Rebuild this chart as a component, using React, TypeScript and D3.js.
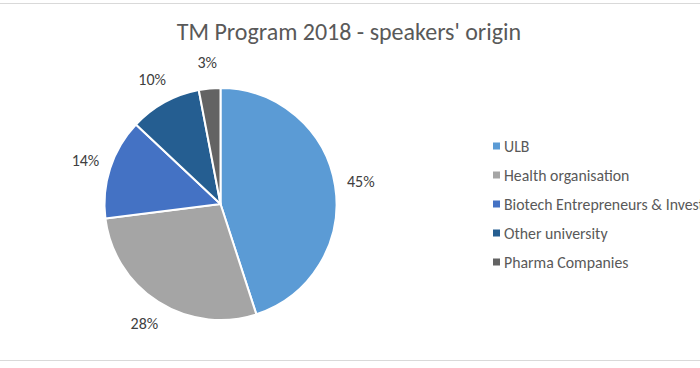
import React from "react";
import * as d3 from "d3";

const categories = ["ULB", "Health organisation", "Biotech Entrepreneurs & Investors", "Other university", "Pharma Companies"];
const values = [45, 28, 14, 10, 3];
const colors = ["#5B9BD5", "#A5A5A5", "#4472C4", "#255E91", "#636363"];
const title = "TM Program 2018 - speakers' origin";

const W = 700;
const H = 368;
const FONT = "Calibri, Carlito, Lato, 'Open Sans', sans-serif";

export default function App() {
  const cx = 220.5;
  const cy = 204;
  const r = 116;
  const total = d3.sum(values);
  const pie = d3.pie<number>().sort(null).value((d) => d)(values);
  const arc = d3.arc<d3.PieArcDatum<number>>().innerRadius(0).outerRadius(r);
  const labelR = 142;
  const legendY = d3.scalePoint<string>().domain(categories).range([146, 262]);

  return (
    <svg width={W} height={H} style={{ position: "fixed", left: 0, top: 0, background: "#fff" }} fontFamily={FONT}>
      <rect x={0} y={0} width={W} height={H} fill="#fff" />
      <line x1={0} x2={W} y1={3.5} y2={3.5} stroke="#D9D9D9" strokeWidth={1} />
      <line x1={0} x2={W} y1={360.5} y2={360.5} stroke="#D9D9D9" strokeWidth={1} />
      <text x={349} y={40} textAnchor="middle" fontSize={24} fill="#595959">{title}</text>
      <g transform={`translate(${cx},${cy})`}>
        {pie.map((p, i) => (
          <path key={i} d={arc(p) || ""} fill={colors[i]} stroke="#fff" strokeWidth={2} strokeLinejoin="round" />
        ))}
        {pie.map((p, i) => {
          const a = (p.startAngle + p.endAngle) / 2;
          const x = Math.sin(a) * labelR;
          const y = -Math.cos(a) * labelR;
          return (
            <text key={i} x={x} y={y} textAnchor="middle" dominantBaseline="central" fontSize={16} fill="#404040">
              {`${Math.round((values[i] / total) * 100)}%`}
            </text>
          );
        })}
      </g>
      <g>
        {categories.map((c, i) => (
          <g key={c} transform={`translate(0,${legendY(c)})`}>
            <rect x={493} y={-3.5} width={7} height={7} fill={colors[i]} />
            <text x={504} y={0} dominantBaseline="central" fontSize={15.8} fill="#595959">{c}</text>
          </g>
        ))}
      </g>
    </svg>
  );
}
